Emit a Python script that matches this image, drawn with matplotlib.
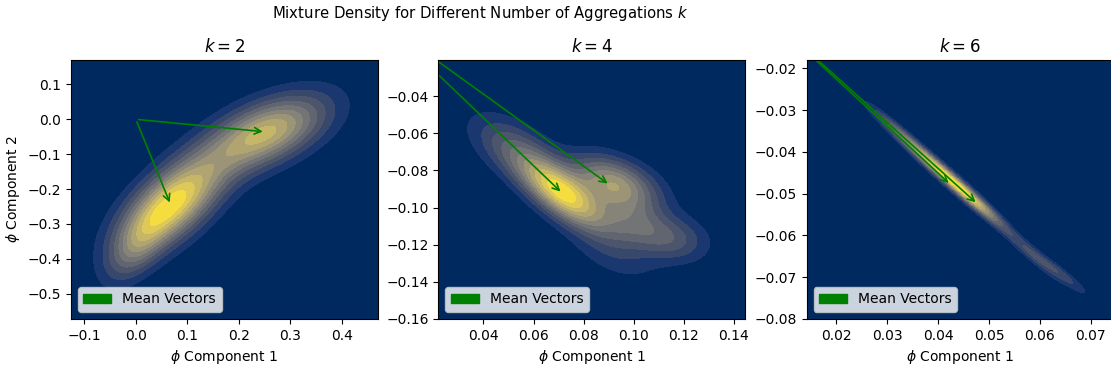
import matplotlib
matplotlib.use("Agg")
import matplotlib.pyplot as plt
import numpy as np
from matplotlib.patches import FancyArrowPatch, Patch

# number of aggregations per panel
ks = [2, 4, 6]

# mean vectors (arrow tips), one list per panel
mean_vectors = [
    [(0.068, -0.246), (0.252, -0.036)],
    [(0.0716, -0.0924), (0.0905, -0.0879)],
    [(0.0425, -0.0479), (0.0478, -0.0525)],
]

# mixture components: centre x, centre y, sd along major axis, sd along minor axis,
# angle of major axis (deg), weight
comp_x = [
    [0.068, 0.255, 0.16, 0.00],
    [0.071, 0.052, 0.092, 0.099, 0.116, 0.092],
    [0.040, 0.047, 0.032, 0.058, 0.064],
]
comp_y = [
    [-0.246, -0.036, -0.13, -0.37],
    [-0.092, -0.068, -0.087, -0.108, -0.117, -0.125],
    [-0.044, -0.0515, -0.035, -0.064, -0.069],
]
comp_sd_major = [
    [0.10, 0.09, 0.08, 0.07],
    [0.016, 0.015, 0.013, 0.012, 0.010, 0.014],
    [0.007, 0.006, 0.006, 0.006, 0.005],
]
comp_sd_minor = [
    [0.045, 0.05, 0.05, 0.03],
    [0.0065, 0.008, 0.008, 0.008, 0.008, 0.008],
    [0.0009, 0.0009, 0.0008, 0.0009, 0.0008],
]
comp_angle = [
    [57.7, 39.7, 45.0, 68.0],
    [-50.0, -48.0, -35.0, -40.0, -25.0, -40.0],
    [-47.3, -47.3, -47.3, -48.0, -44.0],
]
comp_weight = [
    [0.48, 0.38, 0.05, 0.07],
    [0.35, 0.12, 0.24, 0.12, 0.07, 0.05],
    [0.42, 0.30, 0.12, 0.10, 0.07],
]

# axis ranges of each panel
x_limits = [(-0.126, 0.4705), (0.022, 0.1445), (0.0142, 0.0745)]
y_limits = [(-0.5725, 0.17), (-0.16, -0.0205), (-0.08, -0.018)]


def mixture_density(xx, yy, cx, cy, sa, sb, ang, w):
    z = np.zeros_like(xx)
    for mx, my, s1, s2, a, wt in zip(cx, cy, sa, sb, ang, w):
        t = np.deg2rad(a)
        rot = np.array([[np.cos(t), -np.sin(t)], [np.sin(t), np.cos(t)]])
        cov = rot @ np.diag([s1 ** 2, s2 ** 2]) @ rot.T
        inv = np.linalg.inv(cov)
        dx = xx - mx
        dy = yy - my
        q = inv[0, 0] * dx * dx + 2 * inv[0, 1] * dx * dy + inv[1, 1] * dy * dy
        z += wt * np.exp(-0.5 * q) / (2 * np.pi * np.sqrt(np.linalg.det(cov)))
    return z


fig = plt.figure(figsize=(11.11, 3.71), dpi=100)
lefts = [0.0639, 0.3945, 0.7261]

for i, k in enumerate(ks):
    ax = fig.add_axes([lefts[i], 0.1402, 0.2763, 0.698])
    gx = np.linspace(*x_limits[i], 400)
    gy = np.linspace(*y_limits[i], 400)
    xx, yy = np.meshgrid(gx, gy)
    zz = mixture_density(xx, yy, comp_x[i], comp_y[i], comp_sd_major[i],
                         comp_sd_minor[i], comp_angle[i], comp_weight[i])
    ax.contourf(xx, yy, zz, levels=np.linspace(0, zz.max(), 13), cmap='cividis')

    for m in mean_vectors[i]:
        arr = FancyArrowPatch((0, 0), m, arrowstyle='->', mutation_scale=12,
                              color='green', lw=1.2)
        ax.add_patch(arr)

    ax.set_xlim(x_limits[i])
    ax.set_ylim(y_limits[i])
    ax.set_title(f'$k={k}$')
    ax.set_xlabel(r'$\phi$ Component 1')
    if i == 0:
        ax.set_ylabel(r'$\phi$ Component 2')
    ax.legend(handles=[Patch(color='green', label='Mean Vectors')], loc='lower left')

fig.suptitle('Mixture Density for Different Number of Aggregations $k$',
             x=0.432, y=0.99, fontsize=10.7)
fig.savefig('out.png', dpi=100)
